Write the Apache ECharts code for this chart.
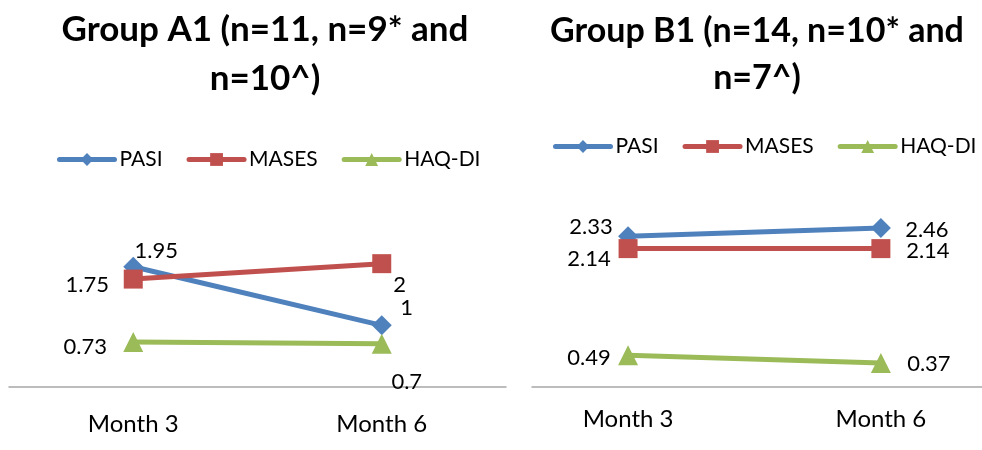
<!DOCTYPE html>
<html>
<head>
<meta charset="utf-8">
<script src="https://cdn.jsdelivr.net/npm/echarts@6/dist/echarts.min.js"></script>
<style>
  html, body { margin: 0; padding: 0; background: #fff; }
  #main { width: 982px; height: 450px; }
</style>
</head>
<body>
<div id="main"></div>
<script>
// data
var categories = ['Month 3', 'Month 6'];
var seriesNames = ['PASI', 'MASES', 'HAQ-DI'];

// Group A1
var a1Pasi = [1.95, 1];
var a1Mases = [1.75, 2];
var a1Haq = [0.73, 0.7];

// Group B1
var b1Pasi = [2.33, 2.46];
var b1Mases = [2.14, 2.14];
var b1Haq = [0.49, 0.37];

var titles = ['Group A1 (n=11, n=9* and\nn=10^)', 'Group B1 (n=14, n=10* and\nn=7^)'];

// label offsets from the marker centre (px)
var offsA1 = [[[23, -16], [25, -17]], [[-46, 6], [18, 21]], [[-48, 5], [25, 38]]];
var offsB1 = [[[-37, -9], [46, 2]], [[-39, 10], [47, 2]], [[-39, 3], [48, 1]]];

var colors = ['#4F81BD', '#C0504D', '#9BBB59'];
var symbols = ['diamond', 'rect', 'triangle'];
var symSizes = [[20, 20], [19, 19], [20, 20]];
var FONT = 'Lato';

var chart = echarts.init(document.getElementById('main'));

function makeSeries(panel, values, offs) {
    var out = [];
    for (var s = 0; s < 3; s++) {
        out.push({
            name: seriesNames[s],
            type: 'line',
            xAxisIndex: panel,
            yAxisIndex: panel,
            symbol: symbols[s],
            symbolSize: symSizes[s],
            color: colors[s],
            lineStyle: { width: 5, color: colors[s] },
            itemStyle: { color: colors[s] },
            label: {
                show: true,
                position: 'inside',
                fontFamily: FONT,
                fontSize: 22,
                color: '#000',
                formatter: function (p) { return String(p.value[1]); }
            },
            data: values[s].map(function (v, i) {
                return { value: [i, v], label: { offset: offs[s][i] } };
            }),
            animation: false
        });
    }
    return out;
}

function xAxis(panel, min, max, margin) {
    return {
        type: 'value',
        gridIndex: panel,
        min: min,
        max: max,
        axisLine: { show: true, lineStyle: { color: '#A6A6A6', width: 1.5 } },
        axisTick: { show: false },
        splitLine: { show: false },
        axisLabel: {
            customValues: [0, 1],
            margin: margin,
            fontFamily: FONT,
            fontSize: 24,
            color: '#000',
            formatter: function (v) { return categories[Math.round(v)]; }
        }
    };
}

function yAxis(panel) {
    return {
        type: 'value',
        gridIndex: panel,
        min: 0,
        max: 3,
        show: false
    };
}

function legend(panel, left, top) {
    return {
        left: left,
        top: top,
        width: 440,
        orient: 'horizontal',
        itemWidth: 55,
        itemHeight: 16,
        itemGap: 24,
        lineStyle: { width: 5, cap: 'round' },
        textStyle: { fontFamily: FONT, fontSize: 21, color: '#000' },
        data: seriesNames
    };
}

var option = {
    backgroundColor: '#fff',
    animation: false,
    title: [
        {
            text: titles[0], left: 260, top: 0, textAlign: 'center',
            textStyle: { fontFamily: FONT, fontWeight: 'bold', fontSize: 35, lineHeight: 49, color: '#000' }
        },
        {
            text: titles[1], left: 752, top: 3, textAlign: 'center',
            textStyle: { fontFamily: FONT, fontWeight: 'bold', fontSize: 34, lineHeight: 47, color: '#000' }
        }
    ],
    legend: [legend(0, 52, 144), legend(1, 548, 131)],
    grid: [
        { left: 9, width: 497, top: 202, height: 185 },
        { left: 532, right: 0, top: 193, height: 194 }
    ],
    xAxis: [xAxis(0, -0.5, 1.5, 25), xAxis(1, -0.38, 1.4, 20)],
    yAxis: [yAxis(0), yAxis(1)],
    series: makeSeries(0, [a1Pasi, a1Mases, a1Haq], offsA1)
        .concat(makeSeries(1, [b1Pasi, b1Mases, b1Haq], offsB1))
};

chart.setOption(option);
</script>
</body>
</html>
